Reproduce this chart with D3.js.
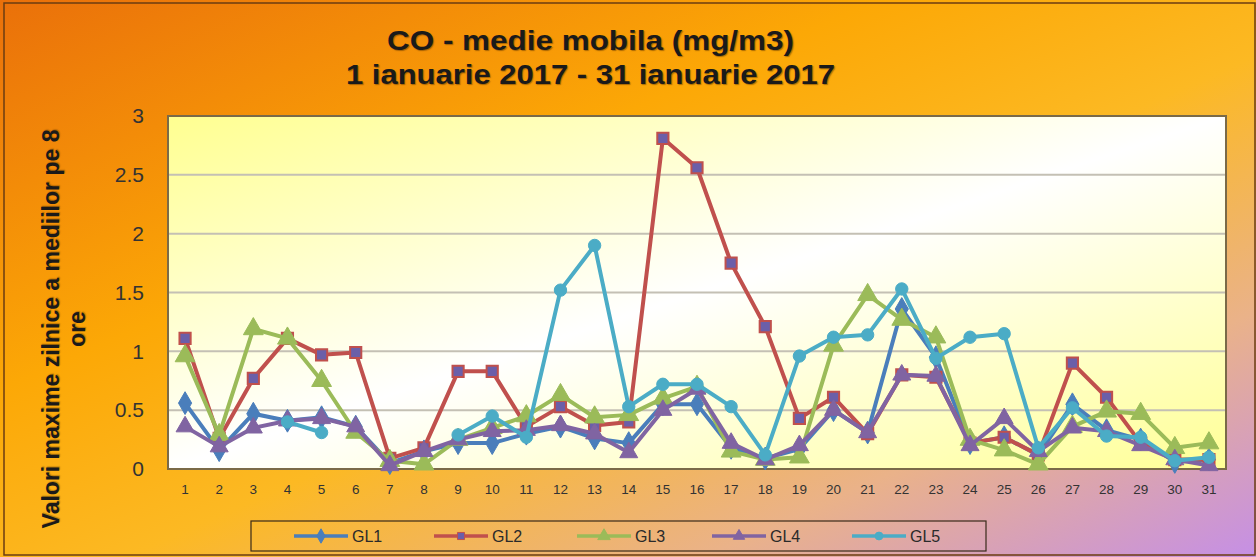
<!DOCTYPE html>
<html>
<head>
<meta charset="utf-8">
<script src="https://cdn.jsdelivr.net/npm/d3@7"></script>
<style>
  body { margin: 0; padding: 0; }
  svg { display: block; font-family: Arial, "Liberation Sans", sans-serif; }
</style>
</head>
<body>
<div id="chart"></div>
<script>
// days of january
var days = d3.range(1, 32);
var yTicks = [0, 0.5, 1, 1.5, 2, 2.5, 3];
var seriesNames = ["GL1", "GL2", "GL3", "GL4", "GL5"];

var gl1 = [0.56, 0.16, 0.47, 0.41, 0.44, 0.36, 0.05, 0.15, 0.22, 0.22, 0.30, 0.36, 0.26, 0.22, 0.55, 0.55,
           0.18, 0.09, 0.17, 0.50, 0.31, 1.36, 0.95, 0.22, 0.27, 0.12, 0.55, 0.33, 0.25, 0.06, 0.08];
var gl2 = [1.11, 0.26, 0.77, 1.11, 0.97, 0.99, 0.09, 0.18, 0.83, 0.83, 0.36, 0.53, 0.37, 0.40, 2.81, 2.56,
           1.75, 1.21, 0.43, 0.61, 0.30, 0.80, 0.78, 0.22, 0.27, 0.12, 0.90, 0.61, 0.22, 0.08, 0.08];
var gl3 = [0.96, 0.29, 1.19, 1.11, 0.75, 0.31, 0.07, 0.04, 0.25, 0.35, 0.45, 0.63, 0.44, 0.46, 0.60, 0.70,
           0.15, 0.08, 0.10, 1.05, 1.48, 1.27, 1.12, 0.25, 0.16, 0.04, 0.36, 0.49, 0.47, 0.18, 0.22];
var gl4 = [0.36, 0.19, 0.35, 0.41, 0.43, 0.36, 0.03, 0.15, 0.25, 0.32, 0.33, 0.37, 0.30, 0.14, 0.50, 0.68,
           0.22, 0.08, 0.20, 0.50, 0.31, 0.80, 0.79, 0.20, 0.43, 0.15, 0.35, 0.32, 0.20, 0.08, 0.03];
var gl5 = [null, null, null, 0.40, 0.31, null, null, null, 0.29, 0.45, 0.27, 1.52, 1.90, 0.53, 0.72, 0.72,
           0.53, 0.12, 0.96, 1.12, 1.14, 1.53, 0.94, 1.12, 1.15, 0.18, 0.52, 0.28, 0.27, 0.07, 0.10];

var seriesValues = [gl1, gl2, gl3, gl4, gl5];
var colors = ["#4a7ebb", "#c0504d", "#9bbb59", "#8064a2", "#4bacc6"];
var markerFill = ["#4a7ebb", "#6b5fa9", "#9bbb59", "#8064a2", "#4bacc6"];
var symbols = [d3.symbolDiamond, d3.symbolSquare, d3.symbolTriangle, d3.symbolTriangle, d3.symbolCircle];
var symSize = [150, 125, 170, 140, 120];

var W = 1256, H = 557;
var margin = {left: 168, right: 30, top: 116, bottom: 88};

var svg = d3.select("#chart").append("svg")
  .attr("width", W).attr("height", H);

var defs = svg.append("defs");
var bg = defs.append("linearGradient").attr("id", "bg")
  .attr("x1", 0).attr("y1", 0).attr("x2", 1).attr("y2", 1);
bg.append("stop").attr("offset", "0%").attr("stop-color", "#ea700a");
bg.append("stop").attr("offset", "35%").attr("stop-color", "#fca806");
bg.append("stop").attr("offset", "55%").attr("stop-color", "#fcb923");
bg.append("stop").attr("offset", "78%").attr("stop-color", "#eab289");
bg.append("stop").attr("offset", "100%").attr("stop-color", "#c58fe6");

var pbg = defs.append("linearGradient").attr("id", "pbg")
  .attr("x1", 0).attr("y1", 0).attr("x2", 1).attr("y2", 1);
pbg.append("stop").attr("offset", "0%").attr("stop-color", "#ffff90");
pbg.append("stop").attr("offset", "50%").attr("stop-color", "#ffffff");
pbg.append("stop").attr("offset", "100%").attr("stop-color", "#ffff96");

svg.append("rect").attr("width", W).attr("height", H).attr("fill", "url(#bg)");
svg.append("rect").attr("x", 4).attr("y", 3).attr("width", W - 5).attr("height", H - 5)
  .attr("fill", "none").attr("stroke", "#6b3d12").attr("stroke-width", 1.5);

var x = d3.scaleBand().domain(days).range([margin.left, W - margin.right]);
var y = d3.scaleLinear().domain([0, 3]).range([H - margin.bottom, margin.top]);

// plot area
svg.append("rect")
  .attr("x", margin.left).attr("y", margin.top)
  .attr("width", W - margin.right - margin.left)
  .attr("height", H - margin.bottom - margin.top)
  .attr("fill", "url(#pbg)");

svg.append("g").selectAll("line")
  .data(yTicks.filter(function(d){ return d > 0 && d < 3; }))
  .join("line")
  .attr("x1", margin.left).attr("x2", W - margin.right)
  .attr("y1", function(d){ return y(d); }).attr("y2", function(d){ return y(d); })
  .attr("stroke", "#c4c0b4").attr("stroke-width", 2);

svg.append("rect")
  .attr("x", margin.left).attr("y", margin.top)
  .attr("width", W - margin.right - margin.left)
  .attr("height", H - margin.bottom - margin.top)
  .attr("fill", "none").attr("stroke", "#7a6a48").attr("stroke-width", 2);

// axes
var yAxis = svg.append("g")
  .attr("transform", "translate(" + (margin.left - 21) + ",0)")
  .call(d3.axisLeft(y).tickValues(yTicks).tickSize(0).tickFormat(d3.format("")));
yAxis.select(".domain").remove();
yAxis.selectAll("text").attr("font-size", 21).attr("fill", "#333").attr("font-family", "Arial, sans-serif");

var xAxis = svg.append("g")
  .attr("transform", "translate(0," + (H - margin.bottom + 12) + ")")
  .call(d3.axisBottom(x).tickSize(0));
xAxis.select(".domain").remove();
xAxis.selectAll("text").attr("font-size", 13.5).attr("fill", "#333").attr("font-family", "Arial, sans-serif");

// titles
var title = svg.append("g").attr("font-weight", "bold").attr("font-size", 27)
  .attr("fill", "#1a1a1a").style("text-shadow", "1px 1px 1px rgba(90,50,0,0.5)");
title.append("text").attr("x", 387).attr("y", 50)
  .attr("textLength", 407).attr("lengthAdjust", "spacingAndGlyphs")
  .text("CO - medie mobila (mg/m3)");
title.append("text").attr("x", 346).attr("y", 84)
  .attr("textLength", 489).attr("lengthAdjust", "spacingAndGlyphs")
  .text("1 ianuarie 2017 - 31 ianuarie 2017");

var ytitle = svg.append("g").attr("text-anchor", "middle")
  .attr("transform", "translate(59,329) rotate(-90)")
  .attr("font-weight", "bold").attr("font-size", 23).attr("fill", "#1a1a1a")
  .style("text-shadow", "1px 1px 1px rgba(90,50,0,0.4)");
ytitle.append("text").attr("x", 0).attr("y", 0).text("Valori maxime zilnice a mediilor pe 8");
ytitle.append("text").attr("x", 0).attr("y", 26).text("ore");

// lines + markers
var cx = function(i){ return x(days[i]) + x.bandwidth() / 2; };
var line = d3.line()
  .defined(function(d){ return d != null; })
  .x(function(d, i){ return cx(i); })
  .y(function(d){ return y(d); });

seriesValues.forEach(function(vals, s) {
  var g = svg.append("g");
  g.append("path").datum(vals)
    .attr("d", line)
    .attr("fill", "none").attr("stroke", colors[s])
    .attr("stroke-width", 4).attr("stroke-linejoin", "round");
  g.selectAll("path.m")
    .data(vals.map(function(v, i){ return {v: v, i: i}; }).filter(function(d){ return d.v != null; }))
    .join("path").attr("class", "m")
    .attr("d", d3.symbol().type(symbols[s]).size(symSize[s]))
    .attr("transform", function(d){ return "translate(" + cx(d.i) + "," + y(d.v) + ")"; })
    .attr("fill", markerFill[s])
    .attr("stroke", colors[s]).attr("stroke-width", s === 1 ? 2 : 1);
});

// legend
svg.append("rect").attr("x", 251).attr("y", 521).attr("width", 735).attr("height", 30)
  .attr("fill", "none").attr("stroke", "#3a2a1a").attr("stroke-width", 1.2);
var legX = [294, 434, 577, 712, 852];
var leg = svg.append("g").selectAll("g").data(seriesNames).join("g")
  .attr("transform", function(d, i){ return "translate(" + legX[i] + ",536)"; });
leg.append("line").attr("x1", 0).attr("x2", 54)
  .attr("stroke", function(d, i){ return colors[i]; }).attr("stroke-width", 3.5);
leg.append("path")
  .attr("d", function(d, i){ return d3.symbol().type(symbols[i]).size(symSize[i] * 0.4)(); })
  .attr("transform", "translate(27,0)")
  .attr("fill", function(d, i){ return markerFill[i]; })
  .attr("stroke", function(d, i){ return colors[i]; });
leg.append("text").attr("x", 58).attr("y", 6)
  .attr("font-size", 16).attr("fill", "#2a2a2a")
  .text(function(d){ return d; });
</script>
</body>
</html>
